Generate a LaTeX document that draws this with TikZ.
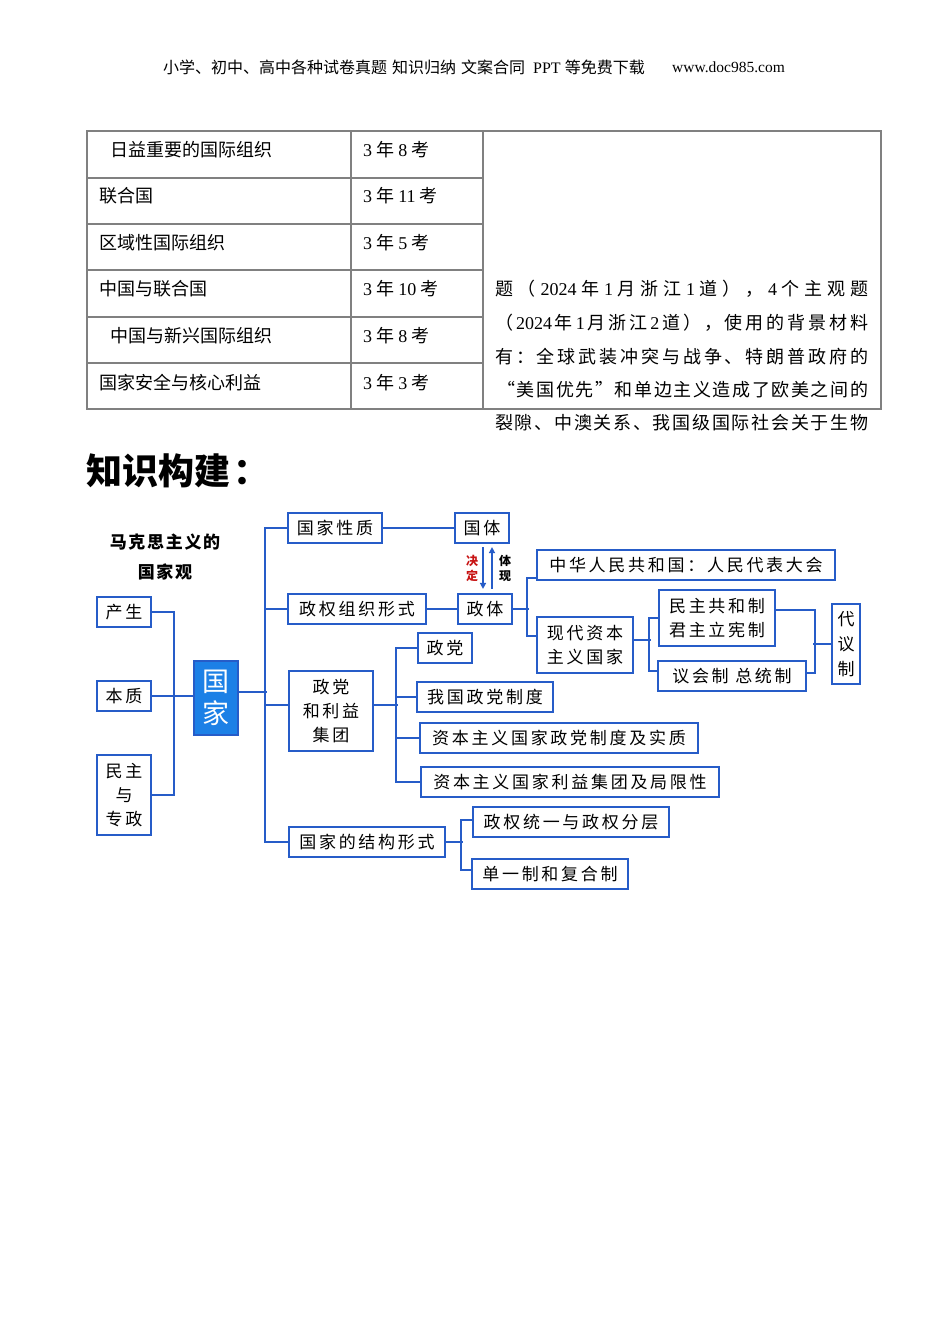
\documentclass[tikz,border=0pt]{standalone}
\usepackage{fontspec}
\setmainfont{Liberation Serif}
\newfontfamily\cjk{Noto Sans CJK SC}
\newfontfamily\kai[LetterSpace=16]{Noto Sans CJK SC}
\newfontfamily\hei[LetterSpace=10]{Noto Sans CJK SC}
\usetikzlibrary{arrows.meta}
\definecolor{lb}{RGB}{38,92,200}
\definecolor{gfill}{RGB}{28,128,230}
\definecolor{tgray}{RGB}{128,128,128}
\definecolor{dred}{RGB}{200,20,20}
\newcommand\tm[1]{{\rmfamily #1}}
\newcommand\jl[1]{\makebox[373pt][s]{\spaceskip=0pt plus 1fil\relax #1}}
\begin{document}
\begin{tikzpicture}[x=1pt,y=-1pt,
 bx/.style={draw=lb, line width=2.2pt, fill=white, inner sep=0pt, align=center, font=\fontsize{17}{24}\selectfont\kai},
 ln/.style={draw=lb, line width=2pt},
 tb/.style={draw=tgray, line width=1.1pt},
 ttxt/.style={anchor=west, inner sep=0pt, font=\fontsize{18}{22}\selectfont\cjk},
 arr/.style={draw=lb, line width=1.5pt, -{Triangle[length=6pt,width=6pt]}},
 lab/.style={inner sep=0pt, align=center, font=\fontsize{12}{15}\selectfont\cjk\bfseries},
 mt/.style={inner sep=0pt, font=\fontsize{17}{20}\selectfont\hei\bfseries},
]
\useasboundingbox (0,0) rectangle (950,1344);
\fill[white] (0,0) rectangle (950,1344);

% header
\node[anchor=west, inner sep=0pt, font=\fontsize{16}{18}\selectfont\cjk] (hdr) at (163,67) {小学、初中、高中各种试卷真题\hspace{5pt}知识归纳\hspace{5pt}文案合同\hspace{8pt}\tm{PPT}\hspace{4pt}等免费下载};
\node[anchor=west, inner sep=0pt, font=\fontsize{15.5}{18}\selectfont\rmfamily] (url) at (672,67) {www.doc985.com};

% table
\draw[tb] (87,131) rectangle (881,409);
\draw[tb] (351,131) -- (351,409);
\draw[tb] (483,131) -- (483,409);
\foreach \yy in {178,224,270,317,363} {\draw[tb] (87,\yy) -- (483,\yy);}

\node[ttxt] (r1a) at (110,150) {日益重要的国际组织};
\node[ttxt] (r2a) at (99,196) {联合国};
\node[ttxt] (r3a) at (99,243) {区域性国际组织};
\node[ttxt] (r4a) at (99,289) {中国与联合国};
\node[ttxt] (r5a) at (110,336) {中国与新兴国际组织};
\node[ttxt] (r6a) at (99,383) {国家安全与核心利益};
\node[ttxt] (r1b) at (363,150) {\tm{3} 年 \tm{8} 考};
\node[ttxt] (r2b) at (363,196) {\tm{3} 年 \tm{11} 考};
\node[ttxt] (r3b) at (363,243) {\tm{3} 年 \tm{5} 考};
\node[ttxt] (r4b) at (363,289) {\tm{3} 年 \tm{10} 考};
\node[ttxt] (r5b) at (363,336) {\tm{3} 年 \tm{8} 考};
\node[ttxt] (r6b) at (363,383) {\tm{3} 年 \tm{3} 考};

\node[ttxt] (p1) at (495,289) {\jl{题 （ \tm{2024} 年 \tm{1} 月 浙 江 \tm{1} 道 ） ， \tm{4} 个 主 观 题}};
\node[ttxt] (p2) at (495,323) {\jl{（ \tm{2024} 年 \tm{1} 月 浙 江 \tm{2} 道 ） ， 使 用 的 背 景 材 料}};
\node[ttxt] (p3) at (495,357) {\jl{有 ： 全 球 武 装 冲 突 与 战 争 、 特 朗 普 政 府 的}};
\node[ttxt] (p4) at (497,390) {\makebox[371pt][s]{\spaceskip=0pt plus 1fil\relax “ 美 国 优 先 ” 和 单 边 主 义 造 成 了 欧 美 之 间 的}};
\node[ttxt] (p5) at (495,423) {\jl{裂 隙 、 中 澳 关 系 、 我 国 级 国 际 社 会 关 于 生 物}};

% title
\node[anchor=west, inner sep=0pt, font=\fontsize{36}{40}\selectfont\cjk\bfseries] (title) at (86,471) {知识构建\hspace{3pt}：};

% mind map
\node[mt] (mt1) at (165,542) {马克思主义的};
\node[mt] (mt2) at (165,572) {国家观};

\node[bx, minimum width=54pt, minimum height=30pt] (chansheng) at (124,612) {产生};
\node[bx, minimum width=54pt, minimum height=30pt] (benzhi) at (124,696) {本质};
\node[bx, minimum width=54pt, minimum height=80pt] (minzhu) at (124,795) {民主\\与\\专政};
\node[draw=lb, fill=gfill, line width=2pt, minimum width=44pt, minimum height=74pt, inner sep=0pt, align=center, text=white, font=\fontsize{27}{32}\selectfont\cjk] (guojia) at (216,698) {国\\家};
\node[bx, minimum width=94pt, minimum height=30pt] (xingzhi) at (335,528) {国家性质};
\node[bx, minimum width=138pt, minimum height=30pt] (zuzhi) at (357,609) {政权组织形式};
\node[bx, minimum width=54pt, minimum height=30pt] (guoti) at (482,528) {国体};
\node[bx, minimum width=54pt, minimum height=30pt] (zhengti) at (485,609) {政体};
\node[bx, minimum width=298pt, minimum height=30pt] (zhonghua) at (686,565) {中华人民共和国：人民代表大会};
\node[bx, minimum width=96pt, minimum height=56pt] (xiandai) at (585,645) {现代资本\\主义国家};
\node[bx, minimum width=116pt, minimum height=56pt] (minzhugh) at (717,618) {民主共和制\\君主立宪制};
\node[bx, minimum width=148pt, minimum height=30pt] (yihui) at (732,676) {议会制\ 总统制};
\node[bx, minimum width=28pt, minimum height=80pt, font=\fontsize{17}{25}\selectfont\cjk] (daiyi) at (846,644) {代\\议\\制};
\node[bx, minimum width=84pt, minimum height=80pt] (zhengdang) at (331,711) {政党\\和利益\\集团};
\node[bx, minimum width=54pt, minimum height=30pt] (dang) at (445,648) {政党};
\node[bx, minimum width=136pt, minimum height=30pt] (woguo) at (485,697) {我国政党制度};
\node[bx, minimum width=278pt, minimum height=30pt] (ziben1) at (559,738) {资本主义国家政党制度及实质};
\node[bx, minimum width=298pt, minimum height=30pt] (ziben2) at (570,782) {资本主义国家利益集团及局限性};
\node[bx, minimum width=156pt, minimum height=30pt] (jiegou) at (367,842) {国家的结构形式};
\node[bx, minimum width=196pt, minimum height=30pt] (tongyi) at (571,822) {政权统一与政权分层};
\node[bx, minimum width=156pt, minimum height=30pt] (danyi) at (550,874) {单一制和复合制};

\node[lab, text=dred] (jueding) at (472,568) {决\\定};
\node[lab, text=black] (tixian) at (505,568) {体\\现};

% connectors
\draw[ln] (chansheng.east) -- ++(22,0) |- (minzhu.east);
\draw[ln] (benzhi.east) -- (guojia.west |- benzhi.east);
\draw[ln] ([yshift=6pt]guojia.east) -- ++(28,0);
\draw[ln] (xingzhi.west) -- ++(-22,0) |- (jiegou.west);
\draw[ln] (zuzhi.west) -- ++(-22,0);
\draw[ln] ([yshift=6pt]zhengdang.west) -- ++(-23,0);
\draw[ln] (xingzhi.east) -- (guoti.west);
\draw[ln] (zuzhi.east) -- (zhengti.west);
\coordinate (ad) at (483,0);
\coordinate (au) at (492,0);
\draw[arr, shorten <=3pt, shorten >=4pt] (guoti.south -| ad) -- (zhengti.north -| ad);
\draw[arr, shorten <=4pt, shorten >=3pt] (zhengti.north -| au) -- (guoti.south -| au);
\draw[ln] (zhengti.east) -- ++(16,0);
\draw[ln] ([yshift=-13pt]zhonghua.west) -- ++(-9,0) |- ([yshift=9pt]xiandai.west);
\draw[ln] ([yshift=5pt]xiandai.east) -- ++(17,0);
\draw[ln] (minzhugh.west) -- ++(-9,0) |- ([yshift=5pt]yihui.west);
\draw[ln] ([yshift=8pt]minzhugh.east) -- ++(39,0) |- ([yshift=3pt]yihui.east);
\draw[ln] (daiyi.west) -- ++(-18,0);
\draw[ln] ([yshift=6pt]zhengdang.east) -- ++(24,0);
\draw[ln] (dang.west) -- ++(-21,0) |- (ziben2.west);
\coordinate (v3) at (397,0);
\draw[ln] (woguo.west) -- (v3 |- woguo.west);
\draw[ln] (ziben1.west) -- (v3 |- ziben1.west);
\draw[ln] (jiegou.east) -- ++(17,0);
\draw[ln] ([yshift=2pt]tongyi.west) -- ++(-11,0) |- ([yshift=4pt]danyi.west);
\end{tikzpicture}
\end{document}
